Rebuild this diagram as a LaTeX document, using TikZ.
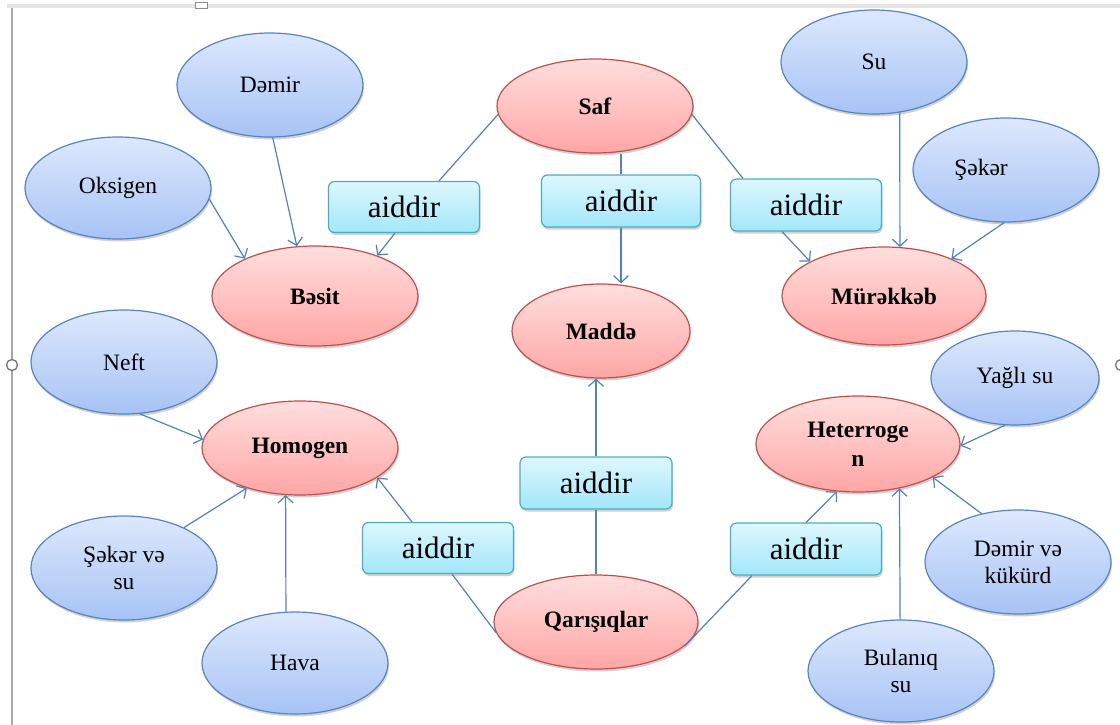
\documentclass[tikz,border=0pt]{standalone}
\usepackage{fontspec}
\setmainfont{Liberation Serif}
\usetikzlibrary{shapes.geometric,arrows.meta,shadows}
\definecolor{bTop}{HTML}{DDE8FD}
\definecolor{bBot}{HTML}{A7C3F5}
\definecolor{bLine}{HTML}{5585C2}
\definecolor{rTop}{HTML}{FFDEDE}
\definecolor{rBot}{HTML}{FFA6A5}
\definecolor{rLine}{HTML}{C0504D}
\definecolor{cTop}{HTML}{DEF7FD}
\definecolor{cBot}{HTML}{A2E7FA}
\definecolor{cLine}{HTML}{4BACC6}
\definecolor{conn}{HTML}{4F81BD}
\begin{document}
\begin{tikzpicture}[x=1pt,y=-1pt,
  sz/.style 2 args={minimum width=#1, minimum height=#2},
  shade/.style={drop shadow={shadow xshift=1pt, shadow yshift=-2.5pt, opacity=0.18, fill=black}},
  blueell/.style={ellipse, draw=bLine, line width=1.2pt, top color=bTop, bottom color=bBot,
    inner sep=0pt, align=center, shade, font=\fontsize{23.5}{27}\selectfont},
  redell/.style={ellipse, draw=rLine, line width=1.2pt, top color=rTop, bottom color=rBot,
    inner sep=0pt, align=center, shade, font=\fontsize{23.5}{29}\selectfont\bfseries},
  relbox/.style={rectangle, rounded corners=6pt, draw=cLine, line width=1.2pt, top color=cTop, bottom color=cBot,
    inner sep=0pt, shade, font=\fontsize{31}{36}\selectfont},
  link/.style={draw=conn, line width=1.2pt},
  arr/.style={link, -{Straight Barb[length=7pt,width=15pt,line width=1.2pt]}}
]
\useasboundingbox (0,0) rectangle (1120,725);
% window frame remnants
\fill[black!10] (7,4) rectangle (1120,8);
\draw[black!45, line width=0.8pt, fill=white] (195,2) rectangle (207,8);
\draw[black!35, line width=1.6pt] (12,8) -- (12,725);
\draw[black!55, line width=1.3pt, fill=white] (12,365) circle (5.5);
\draw[black!55, line width=1.3pt, fill=white] (1121,365) circle (5.5);

% red ellipses
\node[redell, sz={196pt}{94pt}] (saf) at (595,106) {Saf};
\node[redell, sz={206pt}{100pt}] (besit) at (315,296) {Bəsit};
\node[redell, sz={178pt}{94pt}] (madde) at (601,331) {Maddə};
\node[redell, sz={204pt}{98pt}] (murek) at (884,296) {Mürəkkəb};
\node[redell, sz={196pt}{94pt}] (homo) at (300,448) {Homogen};
\node[redell, sz={204pt}{96pt}] (hetero) at (858,444) {Heterroge\\n};
\node[redell, sz={204pt}{94pt}] (qar) at (596,622) {Qarışıqlar};

% blue ellipses
\node[blueell, sz={186pt}{104pt}] (demir) at (270,85) {Dəmir};
\node[blueell, sz={186pt}{102pt}] (oks) at (118,188) {Oksigen};
\node[blueell, sz={186pt}{104pt}] (su) at (874,62) {Su};
\node[blueell, sz={186pt}{104pt}] (seker) at (1006,170) {Şəkər\rule{50pt}{0pt}};
\node[blueell, sz={186pt}{104pt}] (neft) at (124,362) {Neft};
\node[blueell, sz={186pt}{104pt}] (sekersu) at (124,568) {Şəkər və\\su};
\node[blueell, sz={186pt}{102pt}] (hava) at (295,663) {Hava};
\node[blueell, sz={168pt}{94pt}] (yagli) at (1015,378) {Yağlı su};
\node[blueell, sz={186pt}{104pt}] (demirkuk) at (1018,562) {Dəmir və\\kükürd};
\node[blueell, sz={186pt}{102pt}] (bulaniq) at (901,671) {Bulanıq\\su};

% relation boxes
\node[relbox, sz={151pt}{51pt}] (b1) at (404,207) {aiddir};
\node[relbox, sz={159pt}{52pt}] (b2) at (621,201) {aiddir};
\node[relbox, sz={151pt}{52pt}] (b3) at (806,205) {aiddir};
\node[relbox, sz={151pt}{51pt}] (b4) at (438,548) {aiddir};
\node[relbox, sz={152pt}{52pt}] (b5) at (596,483) {aiddir};
\node[relbox, sz={151pt}{52pt}] (b6) at (806,549) {aiddir};

% Saf branch
\draw[link] (saf.185) -- ([xshift=35pt]b1.north);
\draw[arr] ([xshift=-9pt]b1.south) -- (besit.33.5);
\draw[link] (b2.north) -- (b2.north |- saf.south);
\draw[arr] (b2.south) -- (b2.south |- madde.north);
\draw[link] (saf.355.4) -- ([xshift=-63pt]b3.north);
\draw[arr] ([xshift=-24pt]b3.south) -- (murek.155.5);

% Bəsit examples
\draw[arr] (demir.273) -- (besit.110);
\draw[arr] (oks.353.3) -- (besit.152);

% Mürəkkəb examples
\draw[arr] (su.297) -- (murek.72);
\draw[arr] (seker.268) -- (murek.29);

% Qarışıqlar branch
\draw[link] (qar.186.3) -- ([xshift=14pt]b4.south);
\draw[arr] ([xshift=-26pt]b4.north) -- (homo.339.4);
\draw[link] (qar.north) -- (b5.south);
\draw[arr] (b5.north) -- (b5.north |- madde.south);
\draw[link] (qar.345.2) -- ([xshift=-54pt]b6.south);
\draw[arr] (b6.north) -- (hetero.246.4);

% Homogen examples
\draw[arr] (neft.287) -- (homo.175);
\draw[arr] (sekersu.34.5) -- (homo.217.4);
\draw[arr] (hava.100) -- (homo.253.4);

% Heterrogen examples
\draw[arr] (yagli.258) -- (hetero.359);
\draw[arr] (demirkuk.127.8) -- (hetero.336.3);
\draw[arr] (bulaniq.91) -- (hetero.313.5);
\end{tikzpicture}
\end{document}
